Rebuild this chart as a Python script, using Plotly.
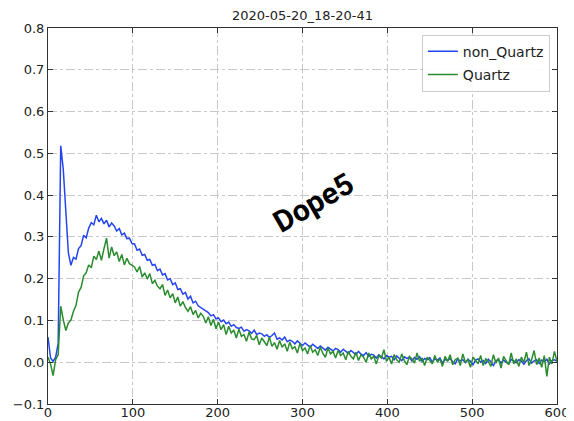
import plotly.graph_objects as go

title_text = "2020-05-20_18-20-41"
series_names = ["non_Quartz", "Quartz"]
watermark = "Dope5"

# sample positions (every 3 units from 0 to 600)
x_vals = list(range(0, 601, 3))

non_quartz = [
    0.060, 0.010, 0.002, 0.012, 0.045, 0.518, 0.462, 0.352, 0.262, 0.232,
    0.251, 0.247, 0.272, 0.279, 0.304, 0.298, 0.321, 0.334, 0.329, 0.352,
    0.336, 0.344, 0.331, 0.340, 0.324, 0.333, 0.326, 0.314, 0.320, 0.305,
    0.309, 0.296, 0.297, 0.284, 0.283, 0.268, 0.271, 0.256, 0.258, 0.244,
    0.246, 0.232, 0.234, 0.219, 0.223, 0.209, 0.212, 0.197, 0.200, 0.186,
    0.190, 0.174, 0.176, 0.163, 0.167, 0.151, 0.158, 0.142, 0.146, 0.135,
    0.131, 0.126, 0.121, 0.119, 0.111, 0.114, 0.104, 0.106, 0.097, 0.101,
    0.092, 0.096, 0.086, 0.090, 0.083, 0.081, 0.084, 0.074, 0.078, 0.075,
    0.069, 0.077, 0.066, 0.070, 0.068, 0.062, 0.066, 0.059, 0.064, 0.070,
    0.055, 0.058, 0.053, 0.060, 0.049, 0.053, 0.050, 0.044, 0.051, 0.045,
    0.040, 0.046, 0.042, 0.036, 0.043, 0.038, 0.033, 0.039, 0.035, 0.029,
    0.036, 0.031, 0.027, 0.033, 0.030, 0.024, 0.031, 0.026, 0.021, 0.028,
    0.022, 0.018, 0.026, 0.019, 0.016, 0.023, 0.014, 0.019, 0.017, 0.010,
    0.018, 0.013, 0.008, 0.016, 0.012, 0.014, 0.006, 0.015, 0.010, 0.004,
    0.013, 0.009, 0.012, 0.003, 0.011, 0.007, 0.013, 0.002, 0.009, 0.006,
    0.011, 0.000, 0.008, 0.005, 0.010, -0.002, 0.007, 0.004, 0.009, 0.001,
    -0.004, 0.008, 0.003, 0.006, -0.001, 0.007, 0.002, -0.006, 0.005, 0.008,
    0.000, 0.004, -0.003, 0.007, 0.001, -0.008, 0.004, 0.006, -0.002, 0.005,
    0.000, -0.004, 0.007, 0.002, -0.001, 0.006, 0.003, -0.005, 0.004, 0.008,
    -0.002, 0.003, 0.006, -0.003, 0.005, 0.001, 0.007, -0.004, 0.004, 0.006,
    0.002,
]

quartz = [
    0.012, -0.004, -0.032, 0.006, 0.018, 0.134, 0.102, 0.076, 0.094, 0.101,
    0.122, 0.136, 0.168, 0.179, 0.207, 0.214, 0.233, 0.226, 0.254, 0.246,
    0.266, 0.244, 0.272, 0.297, 0.249, 0.276, 0.255, 0.264, 0.241, 0.258,
    0.233, 0.249, 0.236, 0.231, 0.228, 0.216, 0.229, 0.204, 0.214, 0.199,
    0.212, 0.188, 0.196, 0.182, 0.176, 0.186, 0.160, 0.173, 0.154, 0.164,
    0.142, 0.156, 0.134, 0.145, 0.131, 0.122, 0.133, 0.114, 0.124, 0.106,
    0.117, 0.110, 0.094, 0.109, 0.088, 0.103, 0.080, 0.096, 0.078, 0.090,
    0.066, 0.086, 0.070, 0.077, 0.058, 0.079, 0.062, 0.066, 0.050, 0.072,
    0.056, 0.054, 0.064, 0.042, 0.058, 0.049, 0.040, 0.060, 0.038, 0.047,
    0.031, 0.052, 0.036, 0.044, 0.026, 0.048, 0.032, 0.037, 0.022, 0.045,
    0.028, 0.034, 0.020, 0.040, 0.024, 0.030, 0.016, 0.036, 0.021, 0.012,
    0.034, 0.020, 0.026, 0.010, 0.028, 0.016, 0.022, 0.006, 0.026, 0.014,
    0.008, 0.024, 0.004, 0.018, 0.012, 0.000, 0.022, 0.008, 0.014, -0.004,
    0.016, 0.010, 0.030, 0.002, 0.012, -0.004, 0.018, 0.006, 0.000, 0.020,
    0.004, -0.006, 0.014, 0.008, -0.002, 0.022, 0.002, 0.010, -0.008, 0.012,
    0.004, -0.004, 0.016, 0.000, 0.008, -0.010, 0.014, 0.002, 0.018, -0.006,
    0.006, 0.010, -0.008, 0.020, 0.000, 0.006, -0.012, 0.012, 0.004, -0.004,
    0.016, -0.008, 0.008, 0.002, -0.010, 0.018, -0.002, 0.010, -0.014, 0.014,
    0.004, -0.006, 0.022, -0.004, 0.008, -0.010, 0.012, 0.000, 0.024, -0.008,
    0.006, 0.028, -0.006, 0.010, -0.012, 0.016, -0.034, 0.012, -0.004, 0.026,
    0.002,
]

assert len(non_quartz) == len(x_vals) and len(quartz) == len(x_vals)

x_ticks = [0, 100, 200, 300, 400, 500, 600]
y_ticks = [-0.1, 0.0, 0.1, 0.2, 0.3, 0.4, 0.5, 0.6, 0.7, 0.8]

colors = ["#2444f0", "#2a8c2e"]
font_family = "DejaVu Sans, sans-serif"

fig = go.Figure()
for name, ys, c in zip(series_names, [non_quartz, quartz], colors):
    fig.add_trace(go.Scatter(x=x_vals, y=ys, mode="lines", name=name,
                             legendgroup=name,
                             line=dict(color=c, width=1.5)))

axis_common = dict(
    showline=True, linecolor="#333333", linewidth=1, mirror="ticks",
    ticks="inside", ticklen=5, tickcolor="#333333",
    showgrid=True, gridcolor="#c8c8c8", griddash="dashdot", gridwidth=1,
    zeroline=False, automargin=False,
    tickfont=dict(family=font_family, size=13, color="#222222"),
)

fig.update_xaxes(range=[0, 600], tickvals=x_ticks, ticklabelstandoff=-4, **axis_common)
fig.update_yaxes(range=[-0.1, 0.8], tickvals=y_ticks, tickformat=".1f", **axis_common)

fig.add_annotation(x=313, y=0.382, xref="x", yref="y", text="<b>" + watermark + "</b>",
                   showarrow=False, textangle=-30,
                   font=dict(family="Roboto, DejaVu Sans", size=30, color="black"))

# page body has an 8px margin, so the figure is offset by 8px
fig.update_layout(
    width=566, height=413,
    margin=dict(l=40, r=17, t=20, b=17),
    paper_bgcolor="white", plot_bgcolor="white",
    title=dict(text=title_text, x=0.5, xref="paper", y=1 - 7 / 413, yref="container",
               xanchor="center", yanchor="middle",
               font=dict(family=font_family, size=13, color="#222222")),
    legend=dict(x=0.986, y=0.982, xanchor="right", yanchor="top",
                bgcolor="rgba(255,255,255,0.9)", bordercolor="#cccccc", borderwidth=1,
                font=dict(family=font_family, size=14, color="#222222"),
                tracegroupgap=2),
    showlegend=True,
)

fig.write_html("out.html")
